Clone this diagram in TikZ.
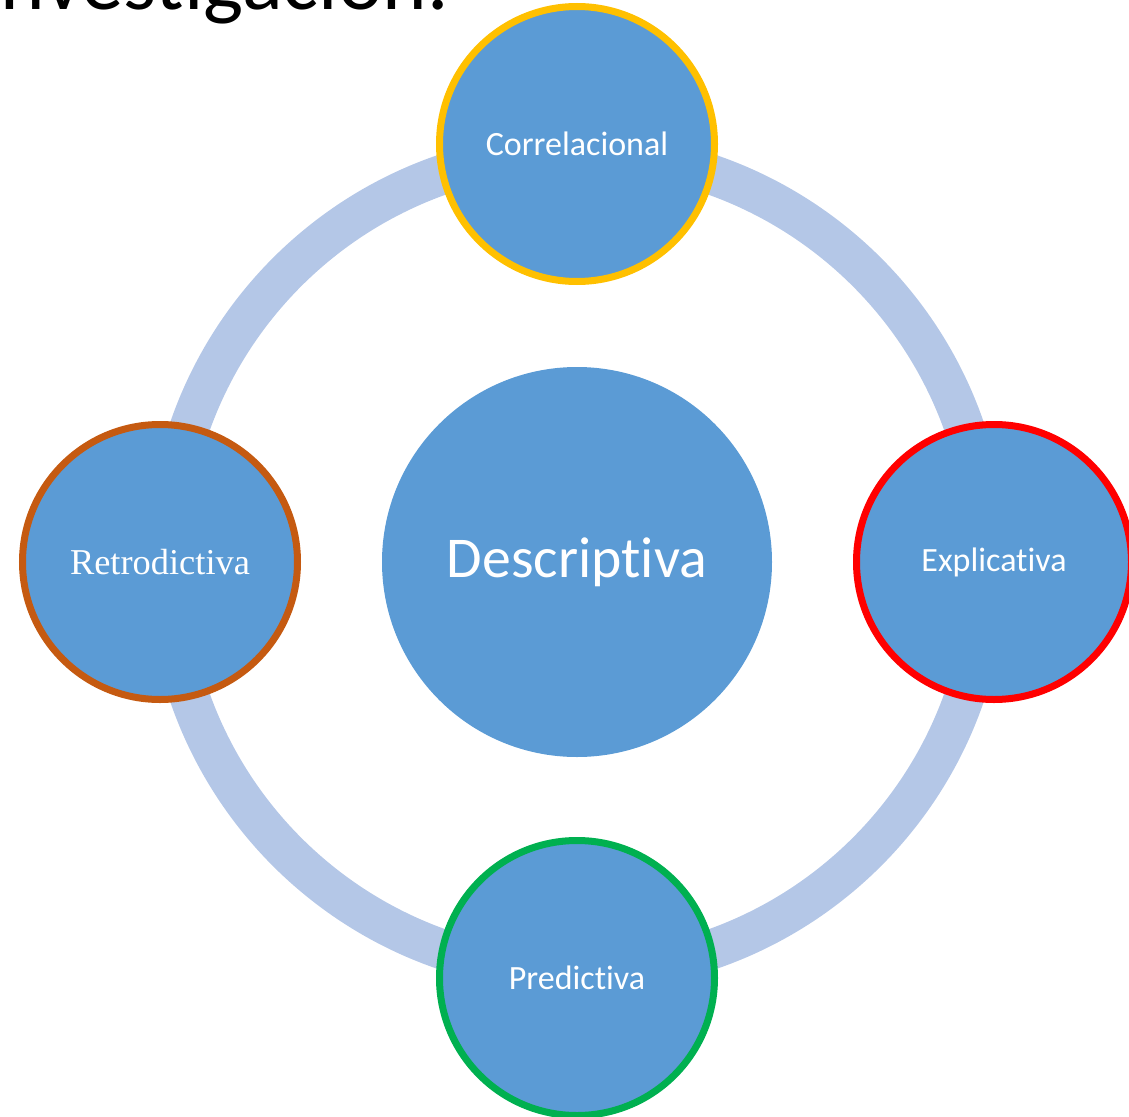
\documentclass[tikz,border=0pt]{standalone}
\usepackage{fontspec}
\setmainfont[Ligatures=NoCommon]{Carlito}
\newfontfamily\timesfont{Liberation Serif}
\definecolor{satfill}{HTML}{5B9BD5}
\definecolor{ringcol}{HTML}{B4C7E7}
\definecolor{cgold}{HTML}{FFC000}
\definecolor{cbrown}{HTML}{C55A11}
\definecolor{cred}{HTML}{FF0000}
\definecolor{cgreen}{HTML}{00B050}
\begin{document}
\begin{tikzpicture}[x=0.75pt,y=-0.75pt,
  sat/.style={circle, draw, line width=5.25pt, fill=satfill, minimum size=206.25pt, inner sep=0pt, text=white, font=\fontsize{25.5}{30}\selectfont},
  core/.style={circle, fill=satfill, minimum size=292.5pt, inner sep=0pt, text=white, font=\fontsize{43.3}{50}\selectfont},
  ringline/.style={draw=ringcol, line width=30pt}
]
\useasboundingbox (0,0) rectangle (1129,1117);
\clip (0,0) rectangle (1129,1117);
\node[anchor=base east, inner sep=0pt, font=\fontsize{63.6}{70}\selectfont] (title) at (449,10) {investigación.};
\draw[ringline] (577,562) circle [radius=410];
\node[core] (desc) at (577,562) {Descriptiva};
\node[sat, draw=cgold] (corr) at (577,144) {Correlacional};
\node[sat, draw=cbrown, font=\timesfont\fontsize{27.3}{32}\selectfont] (retro) at (160,562) {Retrodictiva};
\node[sat, draw=cred] (expl) at (994,562) {Explicativa};
\node[sat, draw=cgreen] (pred) at (577,978) {Predictiva};
\end{tikzpicture}
\end{document}
